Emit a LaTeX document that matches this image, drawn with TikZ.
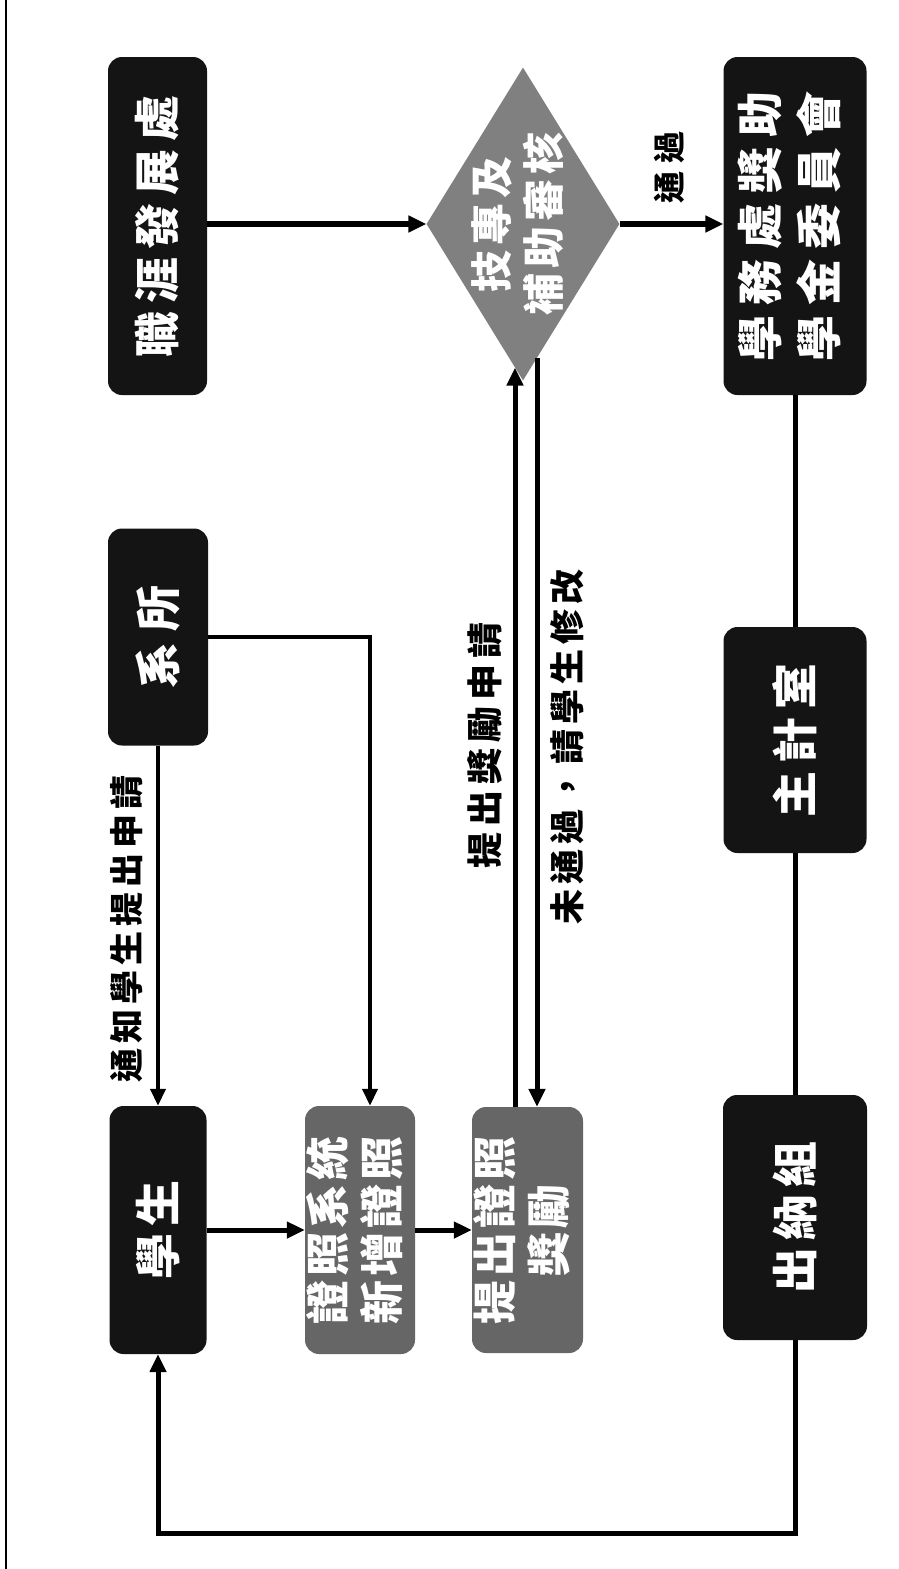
\documentclass[tikz,border=0pt]{standalone}
\usepackage{fontspec}
\newfontfamily\cjk{Noto Sans CJK TC}
\usetikzlibrary{shapes.geometric,arrows.meta}
\newlength{\chgap}
\newcommand{\cg}{\kern\chgap}
\tikzset{
  box/.style={rounded corners=14pt, fill=black!92, text=white, inner sep=0pt, font=\cjk\bfseries},
  gbox/.style={box, fill=black!60},
  conn/.style={line width=5pt, line join=miter, -{Triangle[length=18pt,width=16pt]}},
  thinconn/.style={line width=4pt, line join=miter, -{Triangle[length=17pt,width=15pt]}},
  plainline/.style={line width=5pt},
  lab/.style={font=\cjk\bfseries, text=black, inner sep=0pt},
}
\begin{document}
\begin{tikzpicture}[x=1pt,y=-1pt]
\useasboundingbox (0,0) rectangle (899,1569);
\fill[white] (0,0) rectangle (899,1569);
\draw[line width=1.5pt] (6,0) -- (6,1569);

% nodes
\node[box, minimum width=99pt, minimum height=338pt] (car) at (157.5,226)
  {\rotatebox{90}{\fontsize{46}{54}\selectfont\setlength{\chgap}{8pt}職\cg{}涯\cg{}發\cg{}展\cg{}處}};
\node[box, minimum width=100pt, minimum height=217pt] (dept) at (158,637)
  {\rotatebox{90}{\fontsize{46}{54}\selectfont\setlength{\chgap}{11pt}系\cg{}所}};
\node[box, minimum width=97pt, minimum height=248pt] (stu) at (158,1230)
  {\rotatebox{90}{\fontsize{46}{54}\selectfont\setlength{\chgap}{7pt}學\cg{}生}};
\node[gbox, minimum width=110pt, minimum height=248pt] (sys) at (360,1230)
  {\rotatebox{90}{\fontsize{44}{53}\selectfont\setlength{\chgap}{4pt}\begin{tabular}{@{}c@{}}證\cg{}照\cg{}系\cg{}統\\新\cg{}增\cg{}證\cg{}照\end{tabular}}};
\node[gbox, minimum width=111pt, minimum height=246pt] (prize) at (527.5,1230)
  {\rotatebox{90}{\fontsize{44}{53}\selectfont\setlength{\chgap}{4pt}\begin{tabular}{@{}c@{}}提\cg{}出\cg{}證\cg{}照\\獎\cg{}勵\end{tabular}}};
\node[diamond, aspect=0.62, fill=black!50, text=white, font=\cjk\bfseries,
      inner xsep=-25pt, inner ysep=-40pt, minimum width=193pt, minimum height=313pt] (dia) at (523,224)
  {\rotatebox{90}{\fontsize{42}{52}\selectfont\setlength{\chgap}{5pt}\begin{tabular}{@{}c@{}}技\cg{}專\cg{}及\\補\cg{}助\cg{}審\cg{}核\end{tabular}}};
\node[box, minimum width=143pt, minimum height=338pt] (com) at (795,226)
  {\rotatebox{90}{\fontsize{46}{59}\selectfont\setlength{\chgap}{10pt}\begin{tabular}{@{}c@{}}學\cg{}務\cg{}處\cg{}獎\cg{}助\\學\cg{}金\cg{}委\cg{}員\cg{}會\end{tabular}}};
\node[box, minimum width=143pt, minimum height=226pt] (acc) at (795,740)
  {\rotatebox{90}{\fontsize{46}{54}\selectfont\setlength{\chgap}{8pt}主\cg{}計\cg{}室}};
\node[box, minimum width=144pt, minimum height=245pt] (cash) at (795,1217.5)
  {\rotatebox{90}{\fontsize{46}{54}\selectfont\setlength{\chgap}{7pt}出\cg{}納\cg{}組}};

% labels
\node[lab] (l1) at (127,929)
  {\rotatebox{90}{\fontsize{34}{40}\selectfont\setlength{\chgap}{5pt}通\cg{}知\cg{}學\cg{}生\cg{}提\cg{}出\cg{}申\cg{}請}};
\node[lab] (l2) at (485,745)
  {\rotatebox{90}{\fontsize{36}{42}\selectfont\setlength{\chgap}{6pt}提\cg{}出\cg{}獎\cg{}勵\cg{}申\cg{}請}};
\node[lab] (l3) at (567,747)
  {\rotatebox{90}{\fontsize{35}{40}\selectfont\setlength{\chgap}{5pt}未\cg{}通\cg{}過\cg{}，\cg{}請\cg{}學\cg{}生\cg{}修\cg{}改}};
\node[lab] (l4) at (669,167)
  {\rotatebox{90}{\fontsize{32}{40}\selectfont\setlength{\chgap}{8pt}通\cg{}過}};

% connectors
\draw[conn, line width=6pt] (car.east |- dia.west) -- (dia.west);
\draw[conn, line width=6pt] (dia.east) -- (dia.east -| com.west);
\draw[thinconn] (dept.south) -- (stu.north);
\draw[thinconn] (dept.east) -| ([xshift=10pt]sys.north);
\draw[conn] (stu.east) -- (sys.west);
\draw[conn] (sys.east) -- (prize.west);
\path (dia.south) ++(-8,-13) coordinate (du);
\path (dia.south) ++(14,-22.7) coordinate (dd);
\draw[conn] (prize.north -| du) -- (du);
\draw[conn] (dd) -- (dd |- prize.north);
\draw[plainline] (com) -- (acc);
\draw[plainline] (acc) -- (cash);
\coordinate (bot) at (0,1533);
\draw[conn] (cash.south) |- (bot -| stu.south) -- (stu.south);
\end{tikzpicture}
\end{document}
